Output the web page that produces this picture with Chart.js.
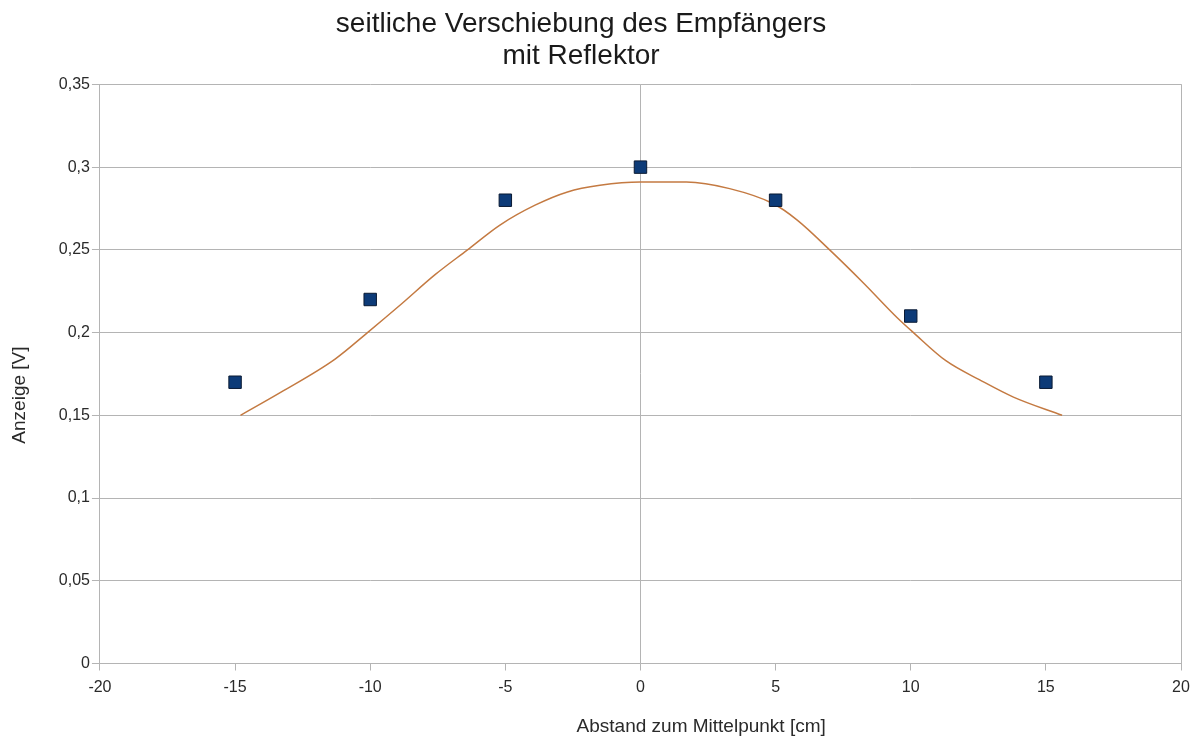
<!DOCTYPE html>
<html>
<head>
<meta charset="utf-8">
<script src="https://cdn.jsdelivr.net/npm/chart.js@4/dist/chart.umd.min.js"></script>
<style>
  html, body { margin: 0; padding: 0; background: #ffffff; }
  #wrap { width: 1199px; height: 744px; position: relative; }
</style>
</head>
<body>
<div id="wrap"><canvas id="c"></canvas></div>
<script>
// Measured points
const pointX = [-15, -10, -5, 0, 5, 10, 15];
const pointY = [0.17, 0.22, 0.28, 0.30, 0.28, 0.21, 0.17];

// Trend line
const trendX = [-14.8, -13.3, -11.3, -10.1, -8.9, -7.6, -6.4, -5.2, -3.9, -2.7, -1.5, 0, 1.7, 3.3, 4.9, 5.8, 7.0, 8.25, 9.5, 10.1, 11.3, 12.6, 13.8, 15.6];
const trendY = [0.150, 0.164, 0.184, 0.200, 0.2165, 0.235, 0.250, 0.265, 0.277, 0.285, 0.289, 0.291, 0.291, 0.287, 0.278, 0.268, 0.250, 0.230, 0.209, 0.200, 0.183, 0.171, 0.161, 0.150];

const titleLines = ['seitliche Verschiebung des Empfängers', 'mit Reflektor'];
const xTitle = 'Abstand zum Mittelpunkt [cm]';
const yTitle = 'Anzeige [V]';

const FONT = '"Liberation Sans", Arial, sans-serif';
const GRID = '#b4b4b4';
const TEXT = '#2a2a2a';

new Chart(document.getElementById('c'), {
  type: 'scatter',
  data: {
    datasets: [
      {
        label: 'Messwerte',
        data: pointX.map((x, i) => ({ x: x, y: pointY[i] })),
        pointStyle: 'rect',
        pointRadius: 8.8,
        pointHoverRadius: 8.8,
        backgroundColor: '#0d3b78',
        borderColor: '#0a1a33',
        borderWidth: 1,
        showLine: false
      },
      {
        type: 'line',
        label: 'Trend',
        data: trendX.map((x, i) => ({ x: x, y: trendY[i] })),
        borderColor: '#c47a42',
        borderWidth: 1.5,
        pointRadius: 0,
        fill: false,
        cubicInterpolationMode: 'monotone'
      }
    ]
  },
  options: {
    responsive: true,
    maintainAspectRatio: false,
    animation: false,
    layout: { padding: { left: 8, right: 18, top: 0, bottom: 6 } },
    plugins: {
      legend: { display: false },
      tooltip: { enabled: false },
      title: {
        display: true,
        text: titleLines,
        color: '#1a1a1a',
        font: { family: FONT, size: 28, weight: 'normal', lineHeight: 1.15 },
        padding: { top: 8, bottom: 12 }
      }
    },
    scales: {
      x: {
        type: 'linear',
        min: -20,
        max: 20,
        ticks: {
          stepSize: 5,
          color: TEXT,
          font: { family: FONT, size: 16 },
          padding: 7.5,
          callback: v => String(v).replace('.', ',')
        },
        grid: {
          color: ctx => (ctx.tick && (ctx.tick.value === 0 || ctx.tick.value === -20 || ctx.tick.value === 20)) ? GRID : 'rgba(0,0,0,0)',
          tickColor: GRID,
          tickLength: 7,
          lineWidth: 1
        },
        border: { display: true, color: GRID },
        title: {
          display: true,
          text: ' '.repeat(23) + xTitle,
          color: TEXT,
          font: { family: FONT, size: 19 },
          padding: { top: 10.5, bottom: 0 }
        }
      },
      y: {
        type: 'linear',
        min: 0,
        max: 0.35,
        ticks: {
          stepSize: 0.05,
          color: TEXT,
          font: { family: FONT, size: 16 },
          padding: 2,
          callback: v => String(Math.round(v * 100) / 100).replace('.', ',')
        },
        grid: {
          color: GRID,
          tickColor: GRID,
          tickLength: 8,
          lineWidth: 1
        },
        border: { display: true, color: GRID },
        title: {
          display: true,
          text: yTitle + ' '.repeat(8),
          color: TEXT,
          font: { family: FONT, size: 19 },
          padding: { top: 0, bottom: 26 }
        }
      }
    }
  },
  plugins: [{
    id: 'shiftTitle',
    afterLayout(chart) {
      const tb = chart.titleBlock;
      if (tb) {
        const shift = 581 - (tb.left + tb.right) / 2;
        tb.left += shift;
        tb.right += shift;
      }
    },
    afterDraw(chart) {
      const a = chart.chartArea, ctx = chart.ctx;
      ctx.save();
      ctx.strokeStyle = GRID;
      ctx.lineWidth = 1;
      ctx.beginPath();
      ctx.moveTo(Math.round(a.right) + 0.5, a.top);
      ctx.lineTo(Math.round(a.right) + 0.5, a.bottom);
      ctx.stroke();
      ctx.restore();
    }
  }]
});
</script>
</body>
</html>
